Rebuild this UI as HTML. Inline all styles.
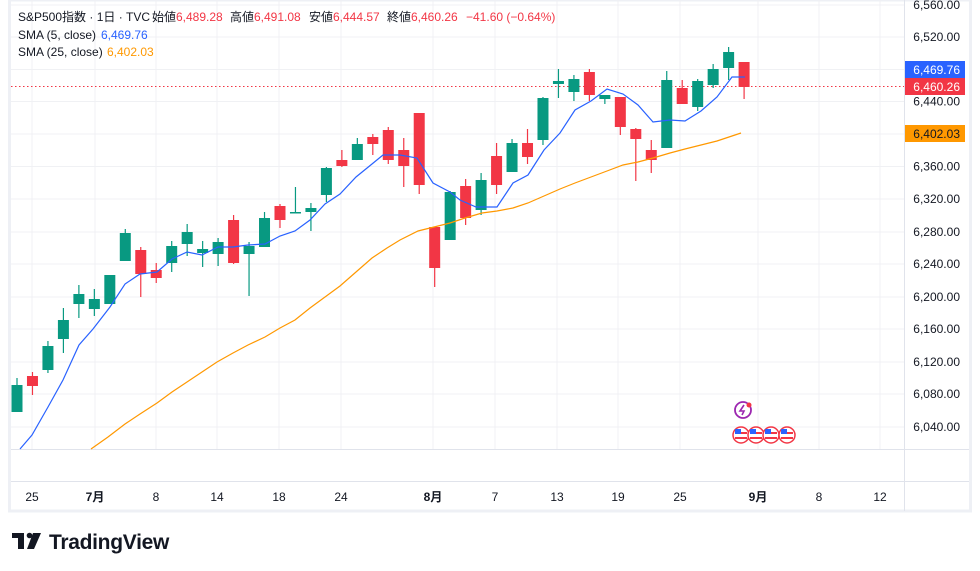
<!DOCTYPE html>
<html><head><meta charset="utf-8"><style>
html,body{margin:0;padding:0;background:#fff;}
body{width:980px;height:571px;overflow:hidden;position:relative;font-family:"Liberation Sans","Noto Sans CJK JP",sans-serif;}
svg{position:absolute;left:0;top:0;}
</style></head><body>
<svg width="980" height="571" viewBox="0 0 980 571" xmlns="http://www.w3.org/2000/svg" font-family="Liberation Sans, Noto Sans CJK JP, sans-serif">
<rect x="9.5" y="0" width="961" height="511" fill="#fff" stroke="#eef0f5" stroke-width="3"/>
<g stroke="#f0f1f4" stroke-width="1">
<line x1="11" x2="904" y1="5" y2="5"/><line x1="11" x2="904" y1="37" y2="37"/><line x1="11" x2="904" y1="69.5" y2="69.5"/><line x1="11" x2="904" y1="101.5" y2="101.5"/><line x1="11" x2="904" y1="134" y2="134"/><line x1="11" x2="904" y1="166.5" y2="166.5"/><line x1="11" x2="904" y1="199" y2="199"/><line x1="11" x2="904" y1="232" y2="232"/><line x1="11" x2="904" y1="264" y2="264"/><line x1="11" x2="904" y1="297" y2="297"/><line x1="11" x2="904" y1="329" y2="329"/><line x1="11" x2="904" y1="362" y2="362"/><line x1="11" x2="904" y1="394" y2="394"/><line x1="11" x2="904" y1="427" y2="427"/>
<line x1="32" x2="32" y1="0" y2="449"/><line x1="95" x2="95" y1="0" y2="449"/><line x1="156" x2="156" y1="0" y2="449"/><line x1="217" x2="217" y1="0" y2="449"/><line x1="279" x2="279" y1="0" y2="449"/><line x1="341" x2="341" y1="0" y2="449"/><line x1="433" x2="433" y1="0" y2="449"/><line x1="495" x2="495" y1="0" y2="449"/><line x1="557" x2="557" y1="0" y2="449"/><line x1="618" x2="618" y1="0" y2="449"/><line x1="680" x2="680" y1="0" y2="449"/><line x1="758" x2="758" y1="0" y2="449"/><line x1="819" x2="819" y1="0" y2="449"/><line x1="880" x2="880" y1="0" y2="449"/>
</g>
<line x1="11" x2="969" y1="449.5" y2="449.5" stroke="#e0e3eb"/>
<line x1="11" x2="969" y1="481.5" y2="481.5" stroke="#e0e3eb"/>
<line x1="904.5" x2="904.5" y1="0" y2="511" stroke="#e0e3eb"/>
<line x1="11" x2="904" y1="86.5" y2="86.5" stroke="#f23645" stroke-dasharray="1.5,2.5"/>
<g id="c"></g>
<polyline fill="none" stroke="#2962ff" stroke-width="1.2" points="20,449 32,435 48,407 63,380 79,345 93,329 110,307 125,284 140,274 157,272 172,259 187,252 202,255 218,247 233,247 248,245 265,244 280,236 295,231 310,220 325,204 340,194 356,177 372,164 383,155 400,155 417,158 433,183 450,192 460,200 476,207 497,207 513,183 528,175 544,150 560,133 575,110 591,101 607,89 623,94 638,105 653,122 670,120 685,121 701,111 717,97 732,77 745,77"/>
<polyline fill="none" stroke="#ff9800" stroke-width="1.2" points="91,449 108,437 125,424 140,414 157,403 172,392 187,382 202,372 217,362 233,353 248,345 265,337 280,328 295,320 310,308 325,297 340,286 356,272 372,258 387,248 400,240 418,231 434,227 450,223 465,218 482,213 497,211 513,208 528,203 544,196 560,189 575,183 591,177 607,171 623,165 638,162 653,158 670,153 685,149 701,145 717,141 732,136 741,133"/>
<g font-size="12" fill="#131722">
<text x="18" y="21">S&amp;P500指数 · 1日 · TVC</text>
<text x="152" y="21">始値</text><text x="176" y="21" fill="#f23645">6,489.28</text>
<text x="230" y="21">高値</text><text x="254" y="21" fill="#f23645">6,491.08</text>
<text x="309" y="21">安値</text><text x="333" y="21" fill="#f23645">6,444.57</text>
<text x="387" y="21">終値</text><text x="411" y="21" fill="#f23645">6,460.26</text>
<text x="466" y="21" fill="#f23645">−41.60 (−0.64%)</text>
<text x="18" y="39">SMA (5, close)</text><text x="101" y="39" fill="#2962ff">6,469.76</text>
<text x="18" y="56">SMA (25, close)</text><text x="107" y="56" fill="#ff9800">6,402.03</text>
</g>
<g font-size="12" fill="#131722" text-anchor="end">
<text x="960" y="9">6,560.00</text><text x="960" y="41">6,520.00</text><text x="960" y="105.5">6,440.00</text><text x="960" y="170.5">6,360.00</text><text x="960" y="203">6,320.00</text><text x="960" y="236">6,280.00</text><text x="960" y="268">6,240.00</text><text x="960" y="301">6,200.00</text><text x="960" y="333">6,160.00</text><text x="960" y="366">6,120.00</text><text x="960" y="398">6,080.00</text><text x="960" y="431">6,040.00</text>
</g>
<rect x="905" y="61" width="60" height="17" fill="#2962ff"/><text x="960" y="74" font-size="12" fill="#fff" text-anchor="end">6,469.76</text>
<rect x="905" y="78" width="60" height="17" fill="#f23645"/><text x="960" y="91" font-size="12" fill="#fff" text-anchor="end">6,460.26</text>
<rect x="905" y="125" width="60" height="17" fill="#ff9800"/><text x="960" y="138" font-size="12" fill="#131722" text-anchor="end">6,402.03</text>
<g font-size="12" fill="#131722" text-anchor="middle">
<text x="32" y="501">25</text><text x="95" y="501" font-weight="bold">7月</text><text x="156" y="501">8</text><text x="217" y="501">14</text><text x="279" y="501">18</text><text x="341" y="501">24</text><text x="433" y="501" font-weight="bold">8月</text><text x="495" y="501">7</text><text x="557" y="501">13</text><text x="618" y="501">19</text><text x="680" y="501">25</text><text x="758" y="501" font-weight="bold">9月</text><text x="819" y="501">8</text><text x="880" y="501">12</text>
</g>
<circle cx="743" cy="410" r="8" fill="#fff" stroke="#9c27b0" stroke-width="1.8"/>
<path d="M744 405 L740 411 L744 411 L742 415" fill="none" stroke="#9c27b0" stroke-width="1.6"/>
<circle cx="749" cy="405" r="2.5" fill="#f23645"/>
<g id="f"></g>
<g fill="#131722">
<rect x="12" y="533" width="12" height="5"/><rect x="18" y="533" width="6" height="16"/>
<circle cx="29.5" cy="535.5" r="2.8"/><path d="M33 533 L41 533 L34 549 L27 549 Z"/>
<text x="49" y="549" font-size="21" font-weight="bold" letter-spacing="-0.3">TradingView</text>
</g>
</svg>
<script>
const G='#089981',R='#f23645';
const d=[
[385,412,378,412,G],[376,386,372,395,R],[346,370,341,373,G],[320,339,308,353,G],[294,304,285,318,G],[299,309,289,316,G],[275,304,275,304,G],[233,261,229,261,G],[250,274,247,297,R],[270,278,263,283,R],[246,263,241,272,G],[232,244,224,256,G],[249,253,241,267,G],[242,254,238,266,G],[220,263,215,264,R],[246,254,242,296,G],[218,247,212,247,G],[206,220,204,228,R],[212,213,187,213,G],[208,212,203,231,G],[168,195,167,202,G],[160,166,150,167,R],[144,160,138,160,G],[137,144,134,155,R],[130,160,127,164,R],[150,166,138,187,R],[113,185,113,194,R],[227,268,227,287,R],[192,240,191,240,G],[186,218,179,225,R],[180,210,173,215,G],
[156,185,143,194,R],[143,172,139,172,G],[143,157,129,164,R],[98,140,97,145,G],[81,84,69,98,G],[79,92,75,101,G],[72,95,69,101,R],[95,99,95,104,G],[97,127,97,135,R],[129,139,128,181,R],[150,160,140,173,R],[80,148,71,148,G],[88,104,80,104,R],[81,107,79,111,G],[69,85,64,88,G],[52,68,47,80,G],[62,87,62,99,R]];
let s='';
d.forEach((c,i)=>{const x=17+15.47*i;
s+=`<line x1="${x}" x2="${x}" y1="${c[2]}" y2="${c[3]}" stroke="${c[4]}" stroke-width="1.2"/>`;
s+=`<rect x="${x-5.5}" y="${c[0]}" width="11" height="${Math.max(1.5,c[1]-c[0])}" fill="${c[4]}"/>`;});
document.getElementById('c').innerHTML=s;
let f='';[741,756,771,787].forEach(x=>{
f+=`<circle cx="${x}" cy="435" r="8" fill="#fff" stroke="#f23645" stroke-width="1.5"/><rect x="${x-6}" y="432" width="12" height="2" fill="#f23645"/><rect x="${x-6}" y="437" width="12" height="2" fill="#f23645"/><rect x="${x-6}" y="429" width="6" height="5" fill="#2962ff"/>`;});
document.getElementById('f').innerHTML=f;
</script>
</body></html>
